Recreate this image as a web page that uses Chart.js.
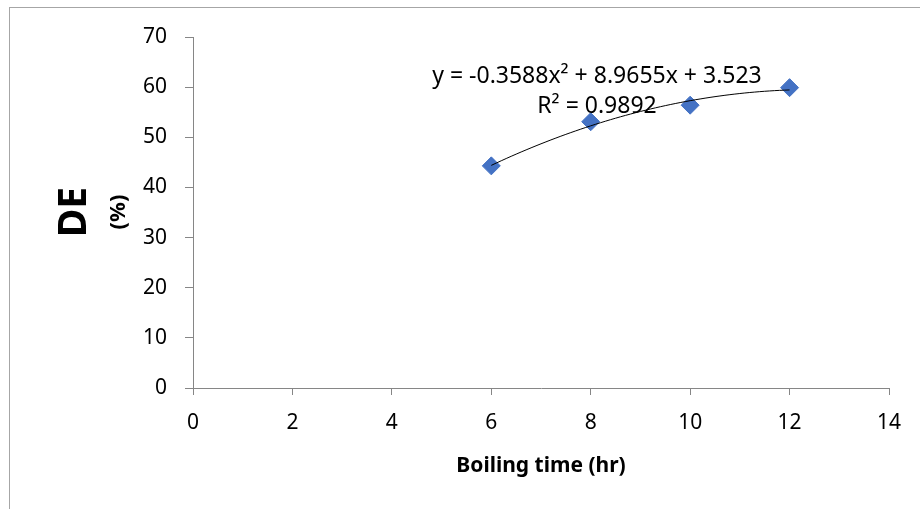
<!DOCTYPE html>
<html>
<head>
<meta charset="utf-8">
<script src="https://cdn.jsdelivr.net/npm/chart.js@4/dist/chart.umd.min.js"></script>
<style>
  html, body { margin: 0; padding: 0; background: #fff; }
  #wrap { width: 920px; height: 509px; }
</style>
</head>
<body>
<div id="wrap"><canvas id="chart" width="920" height="509"></canvas></div>
<script>
// boiling time (hr) vs DE (%)
const boilingHours = [6, 8, 10, 12];
const dePercent = [44.3, 53.1, 56.4, 59.9];
// polynomial trendline y = a*x^2 + b*x + c, as given on the chart
const trendCoef = [-0.3588, 8.9655, 3.523];
const trendRange = [6, 12];
const eqLines = ['y = -0.3588x² + 8.9655x + 3.523', 'R² = 0.9892'];
const xTitle = 'Boiling time (hr)';

const FONT = "'Noto Sans', 'DejaVu Sans', sans-serif";
const axisGray = '#868686';

const framePlugin = {
  id: 'frame',
  beforeDraw(chart) {
    const c = chart.ctx;
    c.save();
    c.strokeStyle = '#a6a6a6';
    c.lineWidth = 1;
    c.strokeRect(9.5, 7.5, 1000, 1000);
    c.restore();
  }
};

function rotText(c, text, x, y, font) {
  c.save();
  c.fillStyle = '#000';
  c.textAlign = 'center';
  c.textBaseline = 'alphabetic';
  c.translate(x, y);
  c.rotate(-Math.PI / 2);
  c.font = font;
  c.fillText(text, 0, 0);
  c.restore();
}

const trendPlugin = {
  id: 'trend',
  afterDatasetsDraw(chart) {
    const c = chart.ctx, xs = chart.scales.x, ys = chart.scales.y;
    const [a, b, k] = trendCoef;
    c.save();
    c.strokeStyle = '#000';
    c.lineWidth = 1;
    c.beginPath();
    for (let i = 0; i <= 60; i++) {
      const x = trendRange[0] + (trendRange[1] - trendRange[0]) * i / 60;
      const y = a * x * x + b * x + k;
      const px = xs.getPixelForValue(x), py = ys.getPixelForValue(y);
      if (i === 0) c.moveTo(px, py); else c.lineTo(px, py);
    }
    c.stroke();
    c.restore();
  },
  afterDraw(chart) {
    const c = chart.ctx, area = chart.chartArea;
    const mid = (area.left + area.right) / 2;
    c.save();
    c.fillStyle = '#000';
    c.textAlign = 'center';
    c.textBaseline = 'alphabetic';
    // equation label
    c.font = '23px ' + FONT;
    c.fillText(eqLines[0], 597, 83);
    c.fillText(eqLines[1], 597, 113);
    // x axis title
    c.font = 'bold 21px ' + FONT;
    c.textBaseline = 'middle';
    c.fillText(xTitle, mid, 466);
    c.restore();
    // y axis title: big "DE" and smaller "(%)"
    rotText(c, 'DE', 86, 212, 'bold 39px ' + FONT);
    rotText(c, '(%)', 124.5, 212, 'bold 22px ' + FONT);
  }
};

new Chart(document.getElementById('chart'), {
  type: 'scatter',
  data: {
    datasets: [{
      label: 'DE',
      data: boilingHours.map((h, i) => ({ x: h, y: dePercent[i] })),
      backgroundColor: '#4472C4',
      borderColor: '#4472C4',
      borderWidth: 1,
      pointStyle: 'rectRot',
      pointRadius: 9,
      pointHoverRadius: 9
    }]
  },
  options: {
    responsive: false,
    animation: false,
    layout: { padding: { left: 0, right: 31, top: 37, bottom: 0 } },
    plugins: { legend: { display: false }, tooltip: { enabled: false } },
    scales: {
      x: {
        type: 'linear',
        min: 0, max: 14,
        ticks: { stepSize: 2, color: '#000', font: { family: FONT, size: 21 }, padding: 15 },
        grid: { drawOnChartArea: false, drawTicks: true, tickLength: 7, color: axisGray },
        border: { color: axisGray },
        afterFit(s) { s.height = 121; }
      },
      y: {
        min: 0, max: 70,
        ticks: { stepSize: 10, color: '#000', font: { family: FONT, size: 21 }, padding: 18 },
        grid: { drawOnChartArea: false, drawTicks: true, tickLength: 8, color: axisGray },
        border: { color: axisGray },
        afterFit(s) { s.width = 193; }
      }
    }
  },
  plugins: [framePlugin, trendPlugin]
});
</script>
</body>
</html>
